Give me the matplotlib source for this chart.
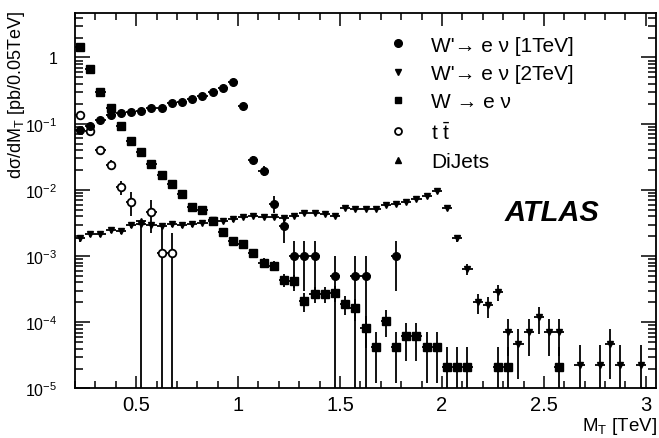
import numpy as np
import matplotlib
matplotlib.use("Agg")
import matplotlib.pyplot as plt
import matplotlib.ticker as mticker
from matplotlib.lines import Line2D

plt.rcParams["font.family"] = ["Liberation Sans", "DejaVu Sans"]
plt.rcParams["mathtext.fontset"] = "custom"
plt.rcParams["mathtext.rm"] = "Liberation Sans"
plt.rcParams["mathtext.it"] = "Liberation Sans:italic"
plt.rcParams["mathtext.bf"] = "Liberation Sans:bold"

# ------------------------------------------------------------
# data (bin centres, 0.05 TeV bins)
# ------------------------------------------------------------
HALF_BIN = 0.025

# W' -> e nu [1 TeV]
WP1_X = [0.225, 0.275, 0.325, 0.375, 0.425, 0.475, 0.525, 0.575, 0.625, 0.675,
         0.725, 0.775, 0.825, 0.875, 0.925, 0.975, 1.025, 1.075, 1.125, 1.175,
         1.225, 1.275, 1.325, 1.375, 1.475, 1.575, 1.625, 1.775]
WP1_Y = [0.080, 0.093, 0.115, 0.135, 0.145, 0.152, 0.156, 0.171, 0.175, 0.205,
         0.21, 0.236, 0.265, 0.304, 0.35, 0.43, 0.187, 0.0286, 0.0195, 0.0062,
         0.0028, 0.001, 0.001, 0.001, 0.0005, 0.0005, 0.0005, 0.001]
WP1_ERR = [0.0063, 0.0068, 0.0076, 0.0082, 0.0085, 0.0087, 0.0088, 0.0092, 0.0094, 0.010,
           0.010, 0.011, 0.0115, 0.0123, 0.013, 0.0147, 0.0097, 0.0038, 0.0031, 0.0018,
           0.0012, 0.0007, 0.0007, 0.0007, 0.0005, 0.0005, 0.0005, 0.0007]

# W' -> e nu [2 TeV]
WP2_X = [0.225, 0.275, 0.325, 0.375, 0.425, 0.475, 0.525, 0.575, 0.625, 0.675,
         0.725, 0.775, 0.825, 0.875, 0.925, 0.975, 1.025, 1.075, 1.125, 1.175,
         1.225, 1.275, 1.325, 1.375, 1.425, 1.475, 1.525, 1.575, 1.625, 1.675,
         1.725, 1.775, 1.825, 1.875, 1.925, 1.975, 2.025, 2.075, 2.125, 2.175,
         2.225, 2.275, 2.325, 2.375, 2.425, 2.475, 2.525, 2.575, 2.675, 2.775,
         2.825, 2.875, 2.975]
WP2_Y = [0.00186, 0.00216, 0.00216, 0.0025, 0.0024, 0.0029, 0.0031, 0.0030, 0.0028, 0.00305,
         0.0029, 0.00305, 0.0032, 0.00355, 0.0034, 0.0036, 0.0039, 0.0041, 0.0039, 0.0039,
         0.0037, 0.0041, 0.0045, 0.0045, 0.0043, 0.0041, 0.0053, 0.0051, 0.0052, 0.0051,
         0.0059, 0.0061, 0.0065, 0.0073, 0.0082, 0.0097, 0.0053, 0.00186, 0.00064, 0.00020,
         0.00018, 0.00029, 7.1e-5, 4.7e-5, 7.1e-5, 1.19e-4, 7.1e-5, 7.1e-5, 2.3e-5, 2.3e-5,
         4.7e-5, 2.3e-5, 2.3e-5]
WP2_ERR = [2.1e-4, 2.2e-4, 2.2e-4, 2.4e-4, 2.3e-4, 2.6e-4, 2.7e-4, 2.6e-4, 2.5e-4, 2.6e-4,
           2.6e-4, 2.6e-4, 2.7e-4, 2.9e-4, 2.8e-4, 2.9e-4, 3.0e-4, 3.1e-4, 3.0e-4, 3.0e-4,
           2.9e-4, 3.1e-4, 3.2e-4, 3.2e-4, 3.1e-4, 3.1e-4, 3.5e-4, 3.4e-4, 3.5e-4, 3.4e-4,
           3.7e-4, 3.7e-4, 3.9e-4, 4.1e-4, 4.3e-4, 4.7e-4, 3.5e-4, 2.1e-4, 1.2e-4, 6.8e-5,
           6.4e-5, 8.2e-5, 4.0e-5, 3.3e-5, 4.0e-5, 5.2e-5, 4.0e-5, 4.0e-5, 2.3e-5, 2.3e-5,
           3.3e-5, 2.3e-5, 2.3e-5]

# W -> e nu
WENU_X = [0.225, 0.275, 0.325, 0.375, 0.425, 0.475, 0.525, 0.575, 0.625, 0.675,
          0.725, 0.775, 0.825, 0.875, 0.925, 0.975, 1.025, 1.075, 1.125, 1.175,
          1.225, 1.275, 1.325, 1.375, 1.425, 1.475, 1.525, 1.575, 1.625, 1.675,
          1.725, 1.775, 1.825, 1.875, 1.925, 1.975, 2.025, 2.075, 2.125, 2.275,
          2.325, 2.575]
WENU_Y = [1.43, 0.67, 0.30, 0.171, 0.091, 0.055, 0.038, 0.025, 0.0168, 0.0123,
          0.0087, 0.0056, 0.0050, 0.0034, 0.0023, 0.0017, 0.0015, 0.0011, 0.00079, 0.00072,
          0.00044, 0.00042, 0.00021, 0.00027, 0.00027, 0.00028, 0.00019, 0.000163, 8.2e-5, 4.2e-5,
          1.06e-4, 4.2e-5, 6.2e-5, 6.2e-5, 4.2e-5, 4.2e-5, 2.1e-5, 2.1e-5, 2.1e-5, 2.1e-5,
          2.1e-5, 2.1e-5]
WENU_ERR = [0.0055, 0.0038, 0.0025, 0.0019, 0.0014, 0.0011, 0.0009, 0.0007, 0.0006, 0.0005,
            0.00043, 0.00034, 0.00032, 0.00027, 0.00022, 0.00019, 0.00018, 0.00015, 0.00013, 0.00012,
            9.6e-5, 9.4e-5, 6.6e-5, 7.5e-5, 7.5e-5, 7.7e-5, 6.3e-5, 5.9e-5, 4.1e-5, 3.0e-5,
            4.7e-5, 3.0e-5, 3.6e-5, 3.6e-5, 3.0e-5, 3.0e-5, 2.1e-5, 2.1e-5, 2.1e-5, 2.1e-5,
            2.1e-5, 2.1e-5]

# t tbar
TT_X = [0.225, 0.275, 0.325, 0.375, 0.425, 0.475, 0.575, 0.625, 0.675]
TT_Y = [0.135, 0.078, 0.040, 0.0238, 0.011, 0.0066, 0.0046, 0.0011, 0.0011]
TT_ERR = [0.010, 0.008, 0.005, 0.004, 0.0025, 0.0026, 0.0024, 0.0017, 0.0011]

# DiJets
DIJ_X = [0.525]
DIJ_Y = [0.0034]
DIJ_ERR_LO = [0.0034]
DIJ_ERR_HI = [0.0]

LABELS = ["W'\u2192 e \u03bd [1TeV]", "W'\u2192 e \u03bd [2TeV]", "W \u2192 e \u03bd",
          r"t $\bar{\mathrm{t}}$", "DiJets"]


def lower(y, err):
    # on a log axis a 100 % error runs to the bottom of the frame
    y = np.asarray(y, float)
    return np.minimum(np.asarray(err, float), y * 0.9999)


fig = plt.figure(figsize=(6.59, 4.39), dpi=100)
ax = fig.add_axes([0.1138, 0.1128, 0.8817, 0.8553])

common = dict(color="black", ecolor="black", elinewidth=1.3, capsize=0,
              linestyle="none", xerr=HALF_BIN)

ax.errorbar(WENU_X, WENU_Y, yerr=[lower(WENU_Y, WENU_ERR), WENU_ERR],
            fmt="s", ms=6, **common)
ax.errorbar(WP2_X, WP2_Y, yerr=[lower(WP2_Y, WP2_ERR), WP2_ERR],
            fmt="v", ms=4, **common)
ax.errorbar(TT_X, TT_Y, yerr=[lower(TT_Y, TT_ERR), TT_ERR],
            fmt="o", ms=5.5, mfc="white", mew=1.3, **common)
ax.errorbar(WP1_X, WP1_Y, yerr=[lower(WP1_Y, WP1_ERR), WP1_ERR],
            fmt="o", ms=5.5, **common)
ax.errorbar(DIJ_X, DIJ_Y, yerr=[lower(DIJ_Y, DIJ_ERR_LO), DIJ_ERR_HI],
            fmt="^", ms=4.5, **common)

ax.set_yscale("log")
ax.set_xlim(0.2, 3.05)
ax.set_ylim(1e-5, 4.7)

ax.xaxis.set_major_locator(mticker.MultipleLocator(0.5))
ax.xaxis.set_minor_locator(mticker.MultipleLocator(0.1))
ax.xaxis.set_major_formatter(mticker.FuncFormatter(lambda v, p: f"{v:g}"))
ax.yaxis.set_major_locator(mticker.LogLocator(base=10, numticks=10))
ax.yaxis.set_minor_locator(mticker.LogLocator(base=10, subs=np.arange(2, 10), numticks=20))
ax.yaxis.set_minor_formatter(mticker.NullFormatter())
ax.yaxis.set_major_formatter(mticker.FuncFormatter(
    lambda v, p: "1" if abs(v - 1) < 1e-9 else r"$10^{%d}$" % round(np.log10(v))))

ax.tick_params(which="both", direction="in", top=True, right=True, width=1.1)
ax.tick_params(axis="x", which="major", length=9, pad=5, labelsize=14.5)
ax.tick_params(axis="x", which="minor", length=5)
ax.tick_params(axis="y", which="major", length=11, pad=12.5, labelsize=11.5)
ax.tick_params(axis="y", which="minor", length=6)
for s in ax.spines.values():
    s.set_linewidth(1.3)

ax.set_ylabel("d\u03c3/dM$_\\mathrm{T}$ [pb/0.05TeV]", fontsize=13)
ax.yaxis.label.set(rotation_mode="default", ha="center", va="top")
ax.yaxis.set_label_coords(-0.1015, 1.008)
ax.set_xlabel("M$_\\mathrm{T}$ [TeV]", fontsize=13.5)
ax.xaxis.label.set(ha="right", va="top")
ax.xaxis.set_label_coords(1.002, -0.07)

handles = [
    Line2D([], [], marker="o", ms=5.5, color="black", ls="none"),
    Line2D([], [], marker="v", ms=5, color="black", ls="none"),
    Line2D([], [], marker="s", ms=5, color="black", ls="none"),
    Line2D([], [], marker="o", ms=5, mfc="white", mec="black", mew=1.3, ls="none"),
    Line2D([], [], marker="^", ms=5, color="black", ls="none"),
]
ax.legend(handles, LABELS, loc="upper left", bbox_to_anchor=(0.523, 0.94),
          frameon=False, fontsize=15, borderpad=0, borderaxespad=0,
          labelspacing=0.45, handlelength=1.8, handletextpad=0.7)

ax.text(0.821, 0.47, "ATLAS", transform=ax.transAxes, fontsize=21,
        fontweight="bold", fontstyle="italic", ha="center", va="center")

fig.savefig("out.png", dpi=100)
